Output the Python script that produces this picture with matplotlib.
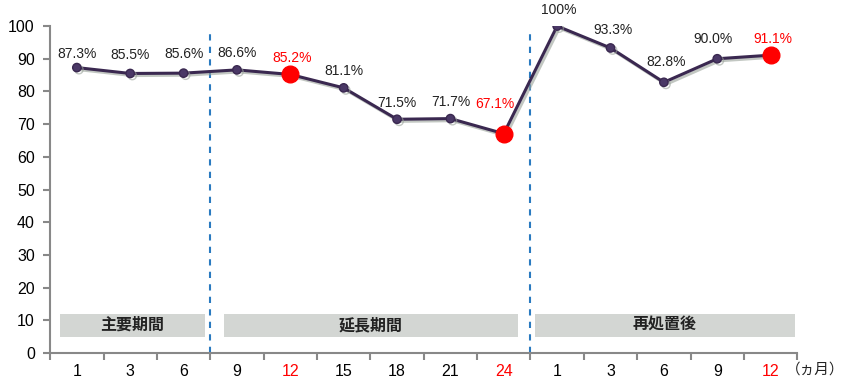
import matplotlib
matplotlib.use('Agg')
import matplotlib.pyplot as plt
import matplotlib.patheffects as pe
from matplotlib.patches import Rectangle

plt.rcParams['font.family'] = ['Liberation Sans', 'Noto Sans CJK JP', 'DejaVu Sans']

# data
months = ['1', '3', '6', '9', '12', '15', '18', '21', '24', '1', '3', '6', '9', '12']
rates = [87.3, 85.5, 85.6, 86.6, 85.2, 81.1, 71.5, 71.7, 67.1, 100, 93.3, 82.8, 90.0, 91.1]
labels = ['87.3%', '85.5%', '85.6%', '86.6%', '85.2%', '81.1%', '71.5%', '71.7%',
          '67.1%', '100%', '93.3%', '82.8%', '90.0%', '91.1%']
highlight = [4, 8, 13]
period_names = ['主要期間', '延長期間', '再処置後']
period_spans = [(-0.31, 2.40), (2.76, 8.26), (8.58, 13.45)]
dividers = [2.5, 8.5]

# label offsets (points) from each marker, as placed in the original
label_dx = [0, 0, 0, 0, 1, 0, 0, 0, -6.5, 1, 2, 1.5, -3, 1.5]
label_dy = [9.5, 13.5, 13.5, 12, 11.5, 12, 12, 12, 21, 11.5, 13, 14.5, 14.5, 11.5]

LINE = '#3a2850'
RED = '#ff0000'

fig = plt.figure(figsize=(8.5, 3.83), dpi=100)
ax = fig.add_axes([0.059, 0.078, 0.879, 0.854])

x = list(range(len(months)))
shadow = [pe.SimpleLineShadow(offset=(1.5, -1.5), shadow_color='#9aa39a', alpha=0.6), pe.Normal()]
ax.plot(x, rates, color=LINE, linewidth=2.2, marker='o', markersize=6,
        markerfacecolor='#4a3866', markeredgecolor=LINE, zorder=3, path_effects=shadow)
ax.plot([x[i] for i in highlight], [rates[i] for i in highlight], 'o', color=RED,
        markersize=12, zorder=4)

for i, (xi, yi) in enumerate(zip(x, rates)):
    col = RED if i in highlight else '#222222'
    ax.annotate(labels[i], (xi, yi), xytext=(label_dx[i], label_dy[i]),
                textcoords='offset points', ha='center', va='center',
                fontsize=10, color=col)

for d in dividers:
    ax.plot([d, d], [0, 98], color='#2a7ac0', linestyle=(0, (3, 3)), linewidth=1.5, zorder=2)

for (x0, x1), name in zip(period_spans, period_names):
    ax.add_patch(Rectangle((x0, 5), x1 - x0, 7, facecolor='#d3d6d3', edgecolor='none', zorder=1))
    ax.text((x0 + x1) / 2, 8.5, name, ha='center', va='center', fontsize=11.5,
            fontweight='bold', color='#222222', zorder=2)

ax.set_xlim(-0.5, len(months) - 0.5)
ax.set_ylim(0, 100)
ax.set_yticks(range(0, 101, 10))

ax.set_xticks(x)
ax.set_xticklabels(months)
ax.set_xticks([i - 0.5 for i in range(len(months) + 1)], minor=True)
ax.tick_params(axis='x', which='major', length=0, pad=8, labelsize=11.5)
ax.tick_params(axis='x', which='minor', length=5, width=1.5, color='#888888')
ax.tick_params(axis='y', length=5, width=1.5, color='#888888', labelsize=11.5, pad=6)
for i in highlight:
    ax.get_xticklabels()[i].set_color(RED)

for side in ['top', 'right']:
    ax.spines[side].set_visible(False)
for side in ['left', 'bottom']:
    ax.spines[side].set_color('#888888')
    ax.spines[side].set_linewidth(1.5)

fig.text(0.993, 0.035, '（ヵ月）', ha='right', va='center', fontsize=10.5, color='#222222')

fig.savefig('out.png', dpi=100)
